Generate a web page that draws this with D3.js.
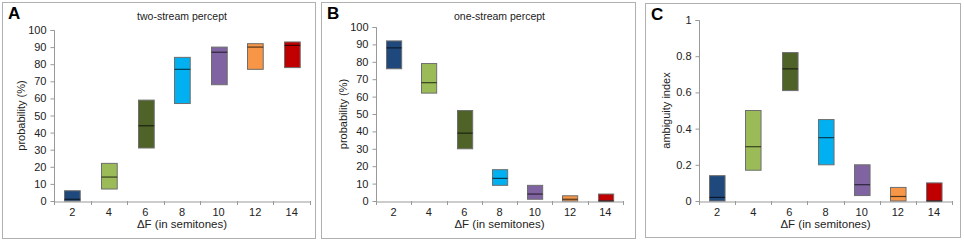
<!DOCTYPE html>
<html>
<head>
	<meta charset="utf-8">
	<title>streaming percepts</title>
	<script src="https://d3js.org/d3.v7.min.js"></script>
	<style>
		body { margin: 0; background: #fff; }
		text { font-family: Arial, 'Liberation Sans', sans-serif; fill: #222; }
	</style>
</head>
<body>
	<div class="chart"></div>

	<script type="text/javascript">

		var categories = ['2', '4', '6', '8', '10', '12', '14']
		var bColor = ['#1F497D', '#9BBB59', '#4F6228', '#00B0F0', '#8064A2', '#F79646', '#C00000']

		// two-stream percept (%)
		var twoLow = [0, 7, 31, 57, 68, 77, 78]
		var twoMed = [1, 14, 44, 77, 87, 90, 91]
		var twoHigh = [6, 22, 59, 84, 90, 92, 93]

		// one-stream percept (%)
		var oneLow = [76, 62, 30, 9, 1, 0, 0]
		var oneMed = [88, 68, 39, 13, 4, 1, 0]
		var oneHigh = [92, 79, 52, 18, 9, 3, 4]

		// ambiguity index
		var ambLow = [0, 0.17, 0.61, 0.2, 0.03, 0, 0]
		var ambMed = [0.02, 0.3, 0.73, 0.35, 0.09, 0.025, 0]
		var ambHigh = [0.14, 0.5, 0.82, 0.45, 0.2, 0.075, 0.1]

		var pctTicks = d3.range(0, 101, 10)
		var ambTicks = [0, 0.2, 0.4, 0.6, 0.8, 1]

		var width = 964
		var height = 242

		var svg = d3
			.select('.chart')
			.append('svg')
			.attr('width', width)
			.attr('height', height)

		var panels = [
			{ letter: 'A', title: 'two-stream percept', ylabel: 'probability (%)', low: twoLow, med: twoMed, high: twoHigh,
				ticks: pctTicks, max: 100, fmt: d3.format('d'),
				box: [2, 2, 313, 236], plot: [54, 310, 30, 201] },
			{ letter: 'B', title: 'one-stream percept', ylabel: 'probability (%)', low: oneLow, med: oneMed, high: oneHigh,
				ticks: pctTicks, max: 100, fmt: d3.format('d'),
				box: [321, 2, 314, 236], plot: [376, 623, 27, 201] },
			{ letter: 'C', title: '', ylabel: 'ambiguity index', low: ambLow, med: ambMed, high: ambHigh,
				ticks: ambTicks, max: 1, fmt: (d) => d === 0 || d === 1 ? d : d.toFixed(1),
				box: [645, 3, 315, 234], plot: [699, 952, 20, 201] }
		]

		panels.forEach(function(p) {
			var b = p.box
			svg.append('rect')
				.attr('x', b[0] + 0.5)
				.attr('y', b[1] + 0.5)
				.attr('width', b[2])
				.attr('height', b[3])
				.attr('fill', '#fff')
				.attr('stroke', '#b0b0b0')

			svg.append('text')
				.attr('x', b[0] + 6)
				.attr('y', b[1] + 17)
				.style('font-size', '17px')
				.style('font-weight', 'bold')
				.style('fill', '#000')
				.text(p.letter)

			var left = p.plot[0], right = p.plot[1], top = p.plot[2], bottom = p.plot[3]

			var xScale = d3.scaleBand().domain(categories).range([left, right])
			var yScale = d3.scaleLinear().domain([0, p.max]).range([bottom, top])

			if (p.title) {
				svg.append('text')
					.attr('x', (left + right) / 2)
					.attr('y', 20)
					.attr('text-anchor', 'middle')
					.style('font-size', '10.5px')
					.text(p.title)
			}

			// y axis
			var yAxis = svg.append('g')
				.attr('transform', `translate(${left + 0.5}, 0)`)
				.call(d3.axisLeft(yScale).tickValues(p.ticks).tickSize(4).tickPadding(4).tickFormat(p.fmt))
			// x axis
			var xAxis = svg.append('g')
				.attr('transform', `translate(0, ${bottom + 0.5})`)
				.call(d3.axisBottom(xScale).tickSize(0).tickPadding(7))

			// band boundary ticks on x axis
			svg.append('g')
				.selectAll('line')
				.data(categories.concat(['end']))
				.enter()
				.append('line')
				.attr('x1', (d, i) => Math.round(left + i * xScale.step()) + 0.5)
				.attr('x2', (d, i) => Math.round(left + i * xScale.step()) + 0.5)
				.attr('y1', bottom)
				.attr('y2', bottom + 4)
				.attr('stroke', '#999')

			;[yAxis, xAxis].forEach(function(g) {
				g.select('.domain').attr('stroke', '#999')
				g.selectAll('.tick line').attr('stroke', '#999')
				g.selectAll('text').style('font-size', '11px').style('font-family', 'Arial, Liberation Sans, sans-serif').attr('fill', '#222')
			})
			yAxis.select('.domain').attr('d', `M-4,${top + 0.5}H0V${bottom}`)

			// axis labels
			svg.append('text')
				.attr('transform', `translate(${left - 29}, ${(top + bottom) / 2}) rotate(-90)`)
				.attr('text-anchor', 'middle')
				.style('font-size', '11px')
				.text(p.ylabel)

			svg.append('text')
				.attr('x', (left + right) / 2)
				.attr('y', bottom + 27)
				.attr('text-anchor', 'middle')
				.style('font-size', '11.5px')
				.text('ΔF (in semitones)')

			// boxes
			var bw = xScale.bandwidth() * 0.43
			var boxes = svg.append('g')
				.selectAll('g')
				.data(categories)
				.enter()
				.append('g')

			boxes.append('rect')
				.attr('x', (d) => Math.round(xScale(d) + xScale.bandwidth() / 2 - bw / 2) + 0.5)
				.attr('y', (d, i) => yScale(p.high[i]))
				.attr('width', bw)
				.attr('height', (d, i) => yScale(p.low[i]) - yScale(p.high[i]))
				.attr('fill', (d, i) => bColor[i])
				.attr('stroke', '#6e6e6e')
				.attr('stroke-width', 1)

			boxes.append('line')
				.attr('x1', (d) => Math.round(xScale(d) + xScale.bandwidth() / 2 - bw / 2) + 0.5)
				.attr('x2', (d) => Math.round(xScale(d) + xScale.bandwidth() / 2 - bw / 2) + 0.5 + bw)
				.attr('y1', (d, i) => yScale(p.med[i]))
				.attr('y2', (d, i) => yScale(p.med[i]))
				.attr('stroke', 'rgba(0,0,0,0.65)')
				.attr('stroke-width', 1.2)
		})

	</script>
</body>
</html>
